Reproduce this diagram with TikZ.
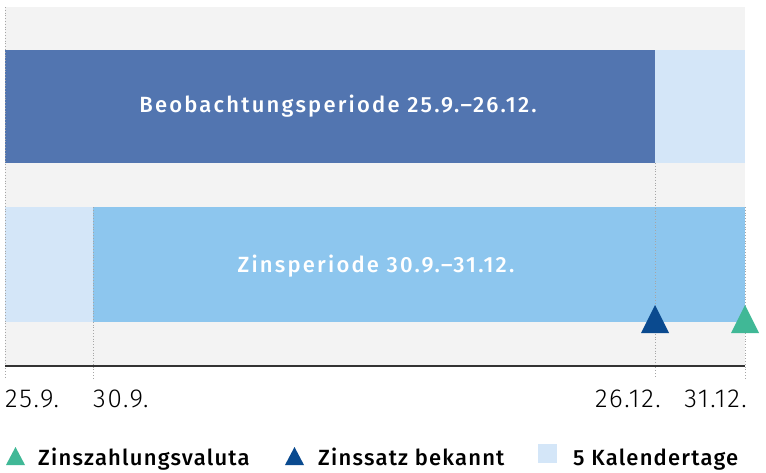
\documentclass[tikz,border=0pt]{standalone}
\usepackage{fontspec}
\setmainfont{Fira Sans}[LetterSpace=6.6]
\newfontfamily\lightfont{Fira Sans Light}[LetterSpace=6.5]
\newfontfamily\barfont{Fira Sans Medium}[LetterSpace=10]
\newfontfamily\keyfont{Fira Sans Medium}[LetterSpace=5.5]
\definecolor{bggray}{HTML}{F3F3F3}
\definecolor{darkbar}{HTML}{5275B0}
\definecolor{midbar}{HTML}{8DC6EE}
\definecolor{palebar}{HTML}{D4E6F8}
\definecolor{navy}{HTML}{0A4A8F}
\definecolor{mint}{HTML}{40B896}
\definecolor{axisgray}{HTML}{333333}
\begin{document}
\begin{tikzpicture}[
		x=1pt, y=-1pt,
		barlabel/.style={text=white, font=\barfont\fontsize{22}{26}\selectfont},
		datelabel/.style={inner sep=0pt, font=\lightfont\fontsize{26}{30}\selectfont},
		legendlabel/.style={inner sep=0pt, anchor=base west, font=\keyfont\fontsize{22}{26}\selectfont},
		guide/.style={gray!70, dotted, line width=0.8pt}
	]
	\useasboundingbox (0,0) rectangle (766,472);
	\fill[bggray] (5,7) rectangle (745,366);
	\fill[darkbar] (5,50) rectangle (655,163);
	\fill[palebar] (655,50) rectangle (745,163);
	\fill[palebar] (5,207) rectangle (93,322);
	\fill[midbar] (93,207) rectangle (745,322);
	\node[barlabel] (beob) at (338,106) {Beobachtungsperiode 25.9.–26.12.};
	\node[barlabel] (zins) at (376,266) {Zinsperiode 30.9.–31.12.};
	\draw[guide] (5,7) -- (5,378);
	\draw[guide] (93,207) -- (93,378);
	\draw[guide] (655,163) -- (655,378);
	\draw[guide] (745,207) -- (745,378);
	\draw[axisgray, line width=1.5pt] (5,366) -- (745,366);
	\fill[navy] (641,333) -- (669,333) -- (655,305) -- cycle;
	\fill[mint] (731,333) -- (759,333) -- (745,305) -- cycle;
	\node[datelabel, anchor=base west] (d1) at (5,407) {25.9.};
	\node[datelabel, anchor=base west] (d2) at (93,407) {30.9.};
	\node[datelabel, anchor=base east] (d3) at (661,407) {26.12.};
	\node[datelabel, anchor=base east] (d4) at (747,407) {31.12.};
	\fill[mint] (6,465) -- (25,465) -- (15.5,447) -- cycle;
	\node[legendlabel] (l1) at (38,465) {Zinszahlungsvaluta};
	\fill[navy] (285,465) -- (304,465) -- (294.5,447) -- cycle;
	\node[legendlabel] (l2) at (318,465) {Zinssatz bekannt};
	\fill[palebar] (538,444) rectangle (557,463);
	\node[legendlabel] (l3) at (573,465) {5 Kalendertage};
\end{tikzpicture}
\end{document}
